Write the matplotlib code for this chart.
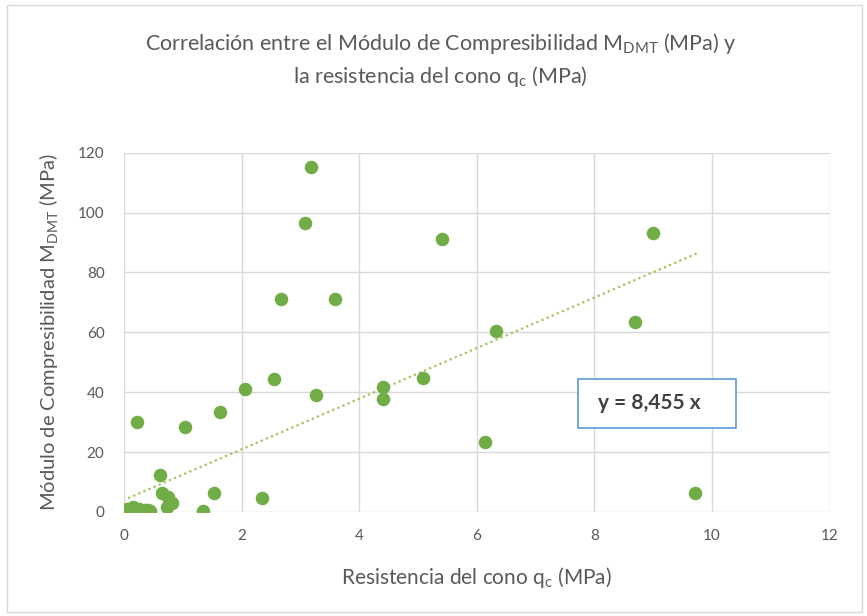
import matplotlib.pyplot as plt
from matplotlib.patches import Rectangle

plt.rcParams["font.family"] = ["Lato", "DejaVu Sans"]
plt.rcParams["mathtext.fontset"] = "custom"
plt.rcParams["mathtext.rm"] = "Lato"

# Resistencia del cono qc (MPa) vs Modulo de Compresibilidad MDMT (MPa)
qc = [3.18, 3.08, 5.41, 9.00, 2.67, 3.59, 8.69, 6.33, 2.06, 2.55, 3.26, 4.41,
      4.41, 5.09, 0.22, 1.04, 1.64, 6.14, 9.71, 0.61, 0.64, 0.75, 0.81, 0.73,
      1.53, 2.34, 1.34, 0.05, 0.10, 0.15, 0.20, 0.25, 0.30, 0.35, 0.40, 0.45]
m_dmt = [115.1, 96.5, 91.1, 93.3, 71.3, 71.3, 63.5, 60.4, 41.0, 44.4, 39.1, 41.6,
         37.7, 44.7, 30.2, 28.3, 33.3, 23.3, 6.2, 12.3, 6.2, 5.1, 2.9, 1.8,
         6.2, 4.8, 0.4, 1.0, 0.5, 1.5, 0.3, 1.0, 0.2, 0.8, 0.5, 0.3]

# linea de tendencia tal como aparece dibujada
slope = 8.455
intercept = 4.0
trend_x = [0.07, 9.76]

x_ticks = [0, 2, 4, 6, 8, 10, 12]
y_ticks = [0, 20, 40, 60, 80, 100, 120]

grey = "#595959"
green = "#70AD47"

fig = plt.figure(figsize=(8.67, 6.16), dpi=100)
ax = fig.add_axes([0.143, 0.169, 0.814, 0.583])

# marco exterior del grafico
fig.patches.append(Rectangle((0.008, 0.006), 0.986, 0.986, transform=fig.transFigure,
                             fill=False, edgecolor="#d9d9d9", linewidth=1.0))

ax.scatter(qc, m_dmt, s=95, color=green, zorder=3, linewidths=0)
ax.plot(trend_x, [slope * x + intercept for x in trend_x], color="#a2c25a",
        linestyle=(0, (1, 1.5)), linewidth=1.6, zorder=2)

ax.set_xlim(0, 12)
ax.set_ylim(0, 120)
ax.set_xticks(x_ticks)
ax.set_yticks(y_ticks)
ax.grid(True, color="#d9d9d9", linewidth=1.0)
ax.set_axisbelow(True)
for s in ax.spines.values():
    s.set_visible(False)
ax.tick_params(length=0, labelsize=11, labelcolor=grey)
ax.tick_params(axis="y", pad=14)
ax.tick_params(axis="x", pad=12)

# recuadro de la ecuacion
ax.add_patch(Rectangle((7.72, 28.2), 2.68, 16.2, fill=True, facecolor="white",
                       edgecolor="#5b9bd5", linewidth=1.2, zorder=4))
ax.text(8.94, 36.4, "y = 8,455 x", ha="center", va="center", fontsize=15,
        fontweight="bold", color="#404040", zorder=5)

ax.set_xlabel(r"Resistencia del cono q$_{\mathrm{c}}$ (MPa)", fontsize=15,
              color=grey, labelpad=16)
ax.set_ylabel(r"Módulo de Compresibilidad M$_{\mathrm{DMT}}$ (MPa)", fontsize=14.5,
              color=grey, labelpad=12)
fig.text(0.508, 0.903,
         "Correlación entre el Módulo de Compresibilidad M$_{\\mathrm{DMT}}$ (MPa) y\n"
         "la resistencia del cono q$_{\\mathrm{c}}$ (MPa)",
         ha="center", va="center", fontsize=15.5, color=grey, linespacing=1.4)

fig.savefig("out.png", dpi=100)
